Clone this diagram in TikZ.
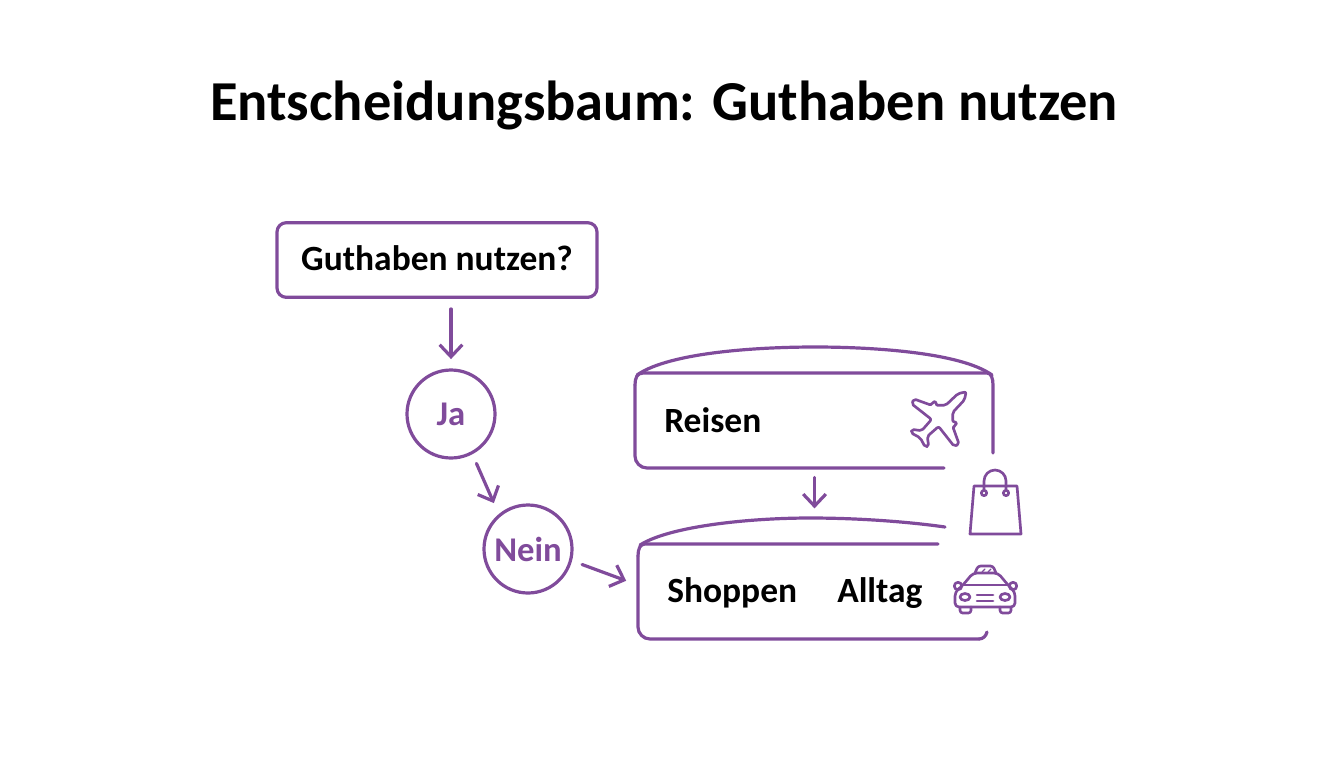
\documentclass[tikz,border=0pt]{standalone}
\usepackage{fontspec}
\setmainfont{Carlito}
\usetikzlibrary{arrows.meta}
\definecolor{lila}{RGB}{128,75,155}
\tikzset{
  outline/.style={draw=lila, line width=2.4pt, line cap=round, line join=round},
  icon/.style={draw=lila, line width=2pt, line cap=round, line join=round},
  flow/.style={draw=lila, line width=2.4pt, line cap=round, -{Straight Barb[length=9pt,width=17pt]}},
  label/.style={font=\fontsize{26.6}{30}\selectfont\bfseries, text=black, inner sep=0pt},
  answer/.style={circle, draw=lila, line width=2.4pt, minimum size=66pt, inner sep=0pt,
    font=\fontsize{26}{30}\selectfont\bfseries, text=lila},
  panel/.style={inner sep=0pt}
}
\begin{document}
\begin{tikzpicture}[x=0.75pt, y=-0.75pt]
  \useasboundingbox (0,0) rectangle (1344,768);
  \node[font=\fontsize{42.3}{50}\selectfont\bfseries, inner sep=0pt] (title) at (664,105) {Entscheidungsbaum: Guthaben nutzen};

  \node[outline, rounded corners=7pt, minimum width=240pt, minimum height=56pt, label, draw=lila, text depth=3pt] (frage) at (437,260) {Guthaben nutzen?};
  \node[answer] (ja) at (451,414) {Ja};
  \node[answer] (nein) at (528,549) {Nein};

  % Reisen
  \node[panel, minimum width=268pt, minimum height=71pt] (reisen) at (814.5,420.5) {};
  \node[label, anchor=west] (reisentext) at (664,420) {Reisen};
  \draw[outline, rounded corners=9pt] (944,468) -- (635,468) -- (635,385);
  \draw[outline] (635,385) .. controls (635,378) and (637,373) .. (643,373) -- (987,373) .. controls (991,373) and (993,378) .. (993,385) -- (993,453);
  \draw[outline] (637,375) .. controls (670,352) and (760,347) .. (815,347) .. controls (870,347) and (960,352) .. (992,375);

  % Shoppen, Alltag
  \node[panel, minimum width=261pt, minimum height=71pt] (shop) at (813,592) {};
  \node[label, anchor=west] (shoppen) at (667,593) {Shoppen};
  \node[label, anchor=west] (alltag) at (837,593) {Alltag};
  \draw[outline, rounded corners=9pt] (979,639) -- (638,639) -- (638,556);
  \draw[outline] (638,556) .. controls (638,549) and (640,544) .. (645,544) -- (938,544);
  \draw[outline] (979,639) .. controls (983,639) and (986,636) .. (987,632);
  \draw[outline] (640,545) .. controls (670,526) and (750,518) .. (810,518) .. controls (860,518) and (910,522) .. (945,527);

  \draw[flow, shorten <=7.5pt, shorten >=7pt] (frage.south -| ja.north) -- (ja.north);
  \draw[flow, shorten <=7.5pt, shorten >=9pt] (ja.-62) -- (nein.130);
  \draw[flow, shorten <=8pt, shorten >=10pt] (nein.-15) -- ([yshift=5pt]shop.west);
  \draw[flow, shorten <=7pt, shorten >=27pt] (reisen.south) -- (shop.north -| reisen.south);

  % Flugzeug
  \begin{scope}[shift={(940,418)}, rotate=45]
    \draw[icon, rounded corners=1.5pt] (37,0) -- (30,4.5) -- (13,5) -- (6,12) -- (9,14) -- (6,17) -- (3,15) -- (-5,32) -- (-10,30) -- (-7,5) -- (-22,4)
      -- (-28,12) -- (-31,10) -- (-28,0) -- (-31,-10) -- (-28,-12) -- (-22,-4) -- (-7,-5) -- (-10,-30) -- (-5,-32)
      -- (3,-15) -- (6,-17) -- (9,-14) -- (6,-12) -- (13,-5) -- (30,-4.5) -- cycle;
  \end{scope}

  % Tasche
  \draw[icon] (974,486) -- (1017,486) -- (1021,534) -- (970,534) -- cycle;
  \draw[icon] (984,493) -- (984,481) arc[start angle=180, end angle=360, radius=11] -- (1006,493);
  \draw[icon, fill=white] (984,493) circle (2pt);
  \draw[icon, fill=white] (1006,493) circle (2pt);

  % Taxi
  \draw[icon, rounded corners=3pt] (955,607) -- (955,592) -- (963,585) -- (973,573) -- (998,573) -- (1008,585) -- (1015,592) -- (1015,607) -- cycle;
  \draw[icon] (963,585) -- (1008,585);
  \draw[icon, rounded corners=2pt] (975,573) -- (978,566) -- (993,566) -- (996,573);
  \draw[icon, line width=1pt] (982,572) -- (985,569) (988,572) -- (991,569);
  \draw[icon] (958,586) circle (2.8pt);
  \draw[icon] (1013,586) circle (2.8pt);
  \draw[icon] (965,597) ellipse (5 and 3.5);
  \draw[icon] (1005,597) ellipse (5 and 3.5);
  \draw[icon] (977,595) -- (993,595) (977,601) -- (993,601);
  \draw[icon, rounded corners=2pt] (960,607) -- (960,613) -- (971,613) -- (971,607);
  \draw[icon, rounded corners=2pt] (1000,607) -- (1000,613) -- (1011,613) -- (1011,607);
\end{tikzpicture}
\end{document}
